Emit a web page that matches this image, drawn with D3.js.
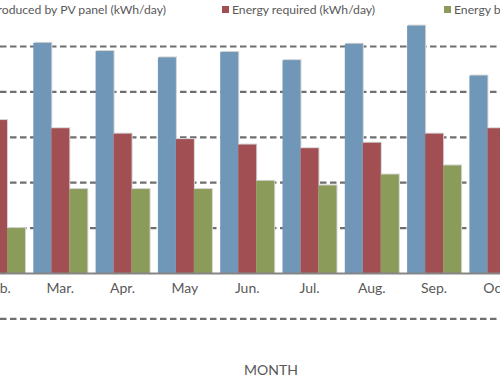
<!DOCTYPE html>
<html>
<head>
<meta charset="utf-8">
<script src="https://cdn.jsdelivr.net/npm/d3@7"></script>
<style>
  html, body { margin: 0; padding: 0; background: #fff; }
  svg { display: block; font-family: Lato, "DejaVu Sans", sans-serif; }
</style>
</head>
<body>
<svg id="chart" width="500" height="380"></svg>
<script>
// ---- data (kWh/day) ----
const months = ["Feb.", "Mar.", "Apr.", "May", "Jun.", "Jul.", "Aug.", "Sep.", "Oct."];
const produced = [21.9, 25.4, 24.5, 23.8, 24.4, 23.5, 25.3, 27.3, 21.8];
const required = [16.9, 16.0, 15.4, 14.8, 14.2, 13.8, 14.4, 15.4, 16.0];
const balance  = [5.0, 9.3, 9.3, 9.3, 10.2, 9.7, 10.9, 11.9, 5.8];
const seriesNames = [
  "Energy produced by PV panel (kWh/day)",
  "Energy required (kWh/day)",
  "Energy balance (kWh/day)"
];
const yTicks = [-5, 5, 10, 15, 20, 25];
const axisTitle = "MONTH";

const colors = ["#7097b8", "#a24f53", "#8b9b59"];
const seriesValues = [produced, required, balance];

const svg = d3.select("#chart");

// scales (the chart is a window onto a wider plot)
const x0 = d3.scaleBand().domain(months).range([-33.15, 527.55]).padding(0);
const x1 = d3.scaleBand().domain(d3.range(3)).range([4.15, 58.15]).padding(0);
const y = d3.scaleLinear().domain([-5, 30]).range([318.9, 1.1]);

// gridlines
svg.append("g").selectAll("line").data(yTicks).join("line")
  .attr("x1", 0).attr("x2", 500)
  .attr("y1", d => y(d)).attr("y2", d => y(d))
  .attr("stroke", "#6f6f6f").attr("stroke-width", 2.2)
  .attr("stroke-dasharray", "6.5,3.5");

// bars
const groups = svg.append("g").selectAll("g").data(months).join("g")
  .attr("transform", d => `translate(${x0(d)},0)`);

groups.each(function(m, i) {
  const g = d3.select(this);
  seriesValues.forEach((vals, s) => {
    g.append("rect")
      .attr("x", x1(s) + 1).attr("y", y(vals[i]) - 1)
      .attr("width", x1.bandwidth()).attr("height", y(0) - y(vals[i]) + 1)
      .attr("fill", "#d4d4d4");
  });
  seriesValues.forEach((vals, s) => {
    g.append("rect")
      .attr("x", x1(s)).attr("y", y(vals[i]))
      .attr("width", x1.bandwidth()).attr("height", y(0) - y(vals[i]))
      .attr("fill", colors[s]);
  });
});

// category axis
const xAxis = d3.axisBottom(x0).tickSize(0).tickPadding(10);
const ax = svg.append("g").attr("transform", `translate(0,${y(0)})`).call(xAxis);
ax.select(".domain").remove();
ax.selectAll("text")
  .attr("fill", "#595959").style("font-size", "14px")
  .style("font-family", "Lato, 'DejaVu Sans', sans-serif");
svg.append("line")
  .attr("x1", 0).attr("x2", 500).attr("y1", y(0)).attr("y2", y(0))
  .attr("stroke", "#858585").attr("stroke-width", 2);

// axis title
svg.append("text").attr("x", 271).attr("y", 375)
  .attr("text-anchor", "middle").attr("fill", "#595959")
  .style("font-size", "14px").text(axisTitle);

// legend
const legendPos = [
  { sq: null, tx: 166, anchor: "end" },
  { sq: 222, tx: 232, anchor: "start" },
  { sq: 444, tx: 454, anchor: "start" }
];
seriesNames.forEach((name, i) => {
  const p = legendPos[i];
  const t = svg.append("text").attr("x", p.tx).attr("y", 14)
    .attr("text-anchor", p.anchor).attr("fill", "#595959")
    .style("font-size", "12.2px").text(name);
  let sqx = p.sq;
  if (sqx === null) {
    const w = t.node().getComputedTextLength();
    sqx = p.tx - w - 10;
  }
  svg.append("rect").attr("x", sqx).attr("y", 6).attr("width", 7).attr("height", 7)
    .attr("fill", colors[i]);
});
</script>
</body>
</html>
